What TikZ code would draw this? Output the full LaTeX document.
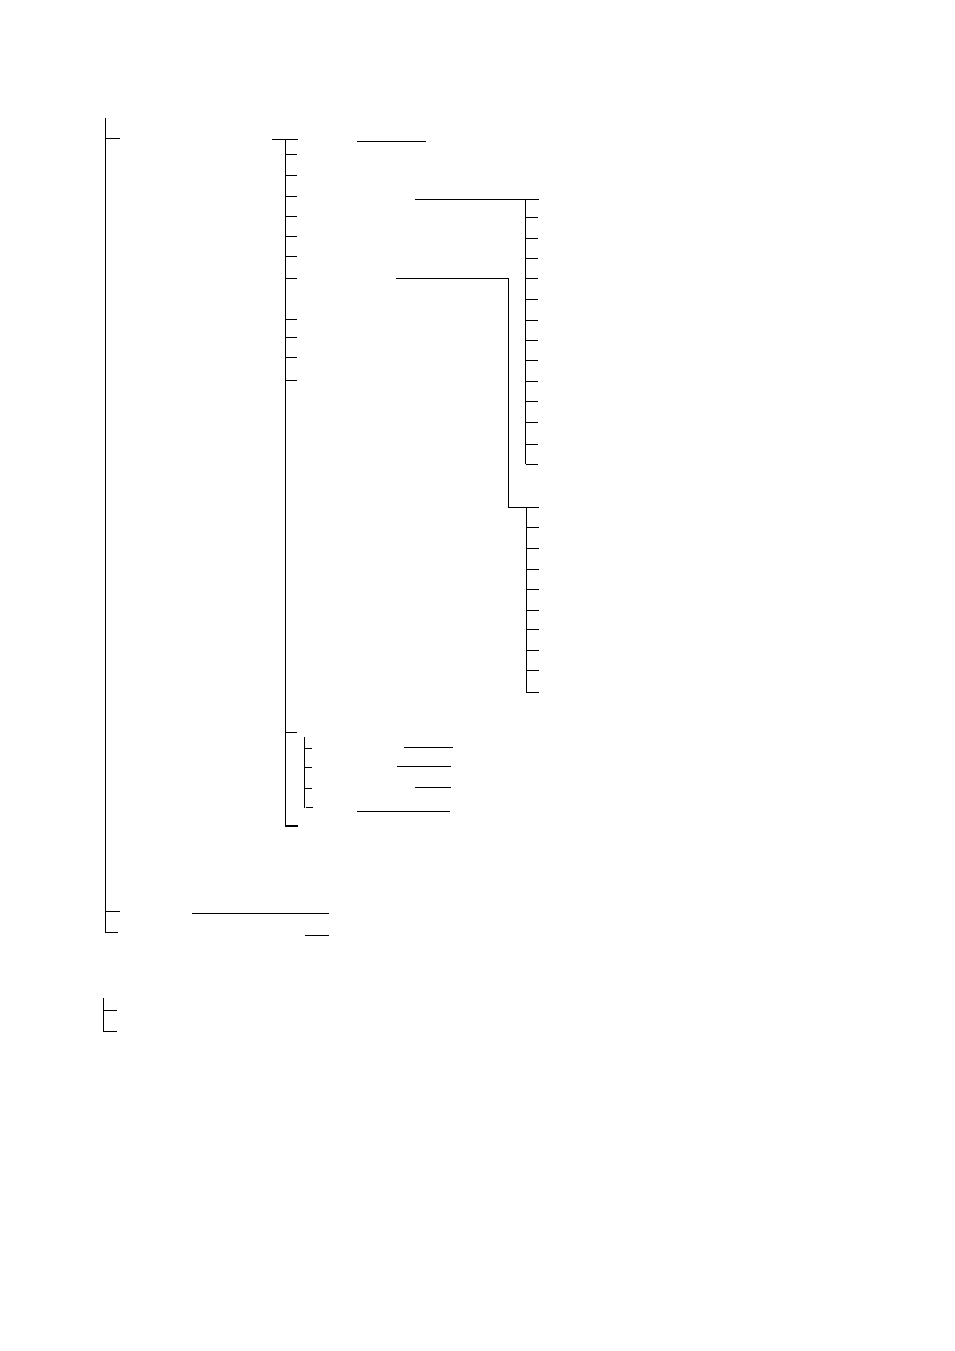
\documentclass[tikz,border=0pt]{standalone}
\begin{document}
\begin{tikzpicture}[x=1pt,y=-1pt,line cap=butt,
  ln/.style={line width=1pt,black},
  thk/.style={line width=1.8pt,black}]
\useasboundingbox (0,0) rectangle (954,1351);
% main spine
\coordinate (r0) at (105.3,118);
\coordinate (r1) at (105.3,932.7);
\draw[ln] (r0) -- (r1);
\draw[ln] (105.3,138.3) -- (120,138.3);
\draw[ln] (105.3,911.3) -- (120,911.3);
\draw[ln] (105.3,932.7) -- (118,932.7);
\draw[ln] (192,913.3) -- (329,913.3);
\draw[ln] (305,935) -- (329,935);
% second spine
\coordinate (s0) at (285.5,139.3);
\coordinate (s1) at (285.5,825.7);
\draw[ln] (s0) -- (s1);
\draw[ln] (272,139.3) -- (298,139.3);
\draw[ln] (357,141.3) -- (425.7,141.3);
\foreach \y in {155,175.3,196.3,216.3,236.3,256.3,278.3,319,337.3,357.3,380.3,732.3}
  \draw[ln] (285.5,\y) -- (297,\y);
\draw[thk] (285,825.7) -- (298,825.7);
% branch A
\draw[ln] (415,199.3) -- (539,199.3);
\draw[ln] (525.7,199.3) -- (525.7,464.3);
\foreach \y in {217.3,238.3,258.3,278.3,299,320.3,340.3,360.3,381.3,401.3,422.3,444.3,464.3}
  \draw[ln] (525.7,\y) -- (538,\y);
% branch B
\draw[ln] (396,278.3) -- (508.3,278.3) -- (508.3,507) -- (538.5,507);
\draw[ln] (526.3,507) -- (526.3,692.3);
\foreach \y in {527.3,548.3,569.3,589.3,610,629.3,650.3,670.3,692.3}
  \draw[ln] (526.3,\y) -- (538.7,\y);
% sub group
\draw[ln] (304.3,737) -- (304.3,807.7);
\foreach \y in {748.3,767.3,788.3}
  \draw[ln] (304.3,\y) -- (311.7,\y);
\draw[ln] (305.7,807.3) -- (313,807.3);
\draw[ln] (404,747.3) -- (452.7,747.3);
\draw[ln] (397,766.3) -- (451,766.3);
\draw[ln] (415,787.3) -- (451,787.3);
\draw[ln] (357,811.3) -- (449.7,811.3);
% lower group
\draw[ln] (103.3,998) -- (103.3,1031) -- (116.7,1031);
\draw[ln] (103.3,1010) -- (116.7,1010);
\end{tikzpicture}
\end{document}
